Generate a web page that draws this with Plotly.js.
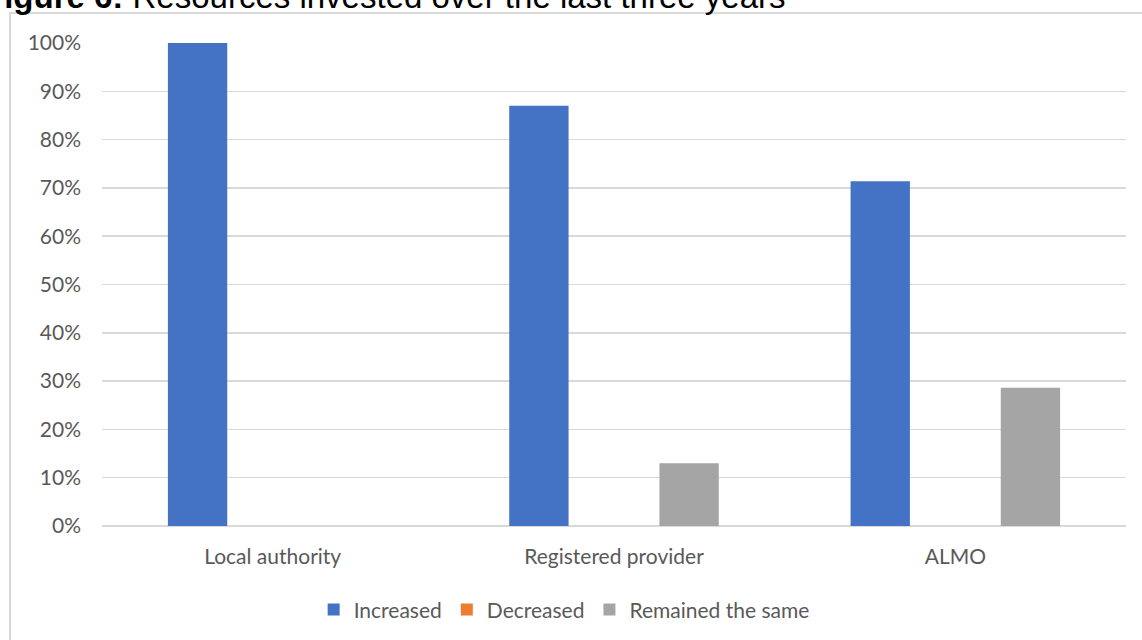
<!DOCTYPE html>
<html>
<head>
<meta charset="utf-8">
<script src="https://cdn.plot.ly/plotly-3.0.1.min.js"></script>
<style>
  html, body { margin: 0; padding: 0; background: #ffffff; overflow: hidden; }
  #frame {
    position: absolute; left: 9px; top: 12px; width: 1200px; height: 700px;
    border: 2px solid #d9d9d9; box-sizing: border-box;
  }
  #chart { position: absolute; left: 0; top: 0; width: 1142px; height: 640px; }
</style>
</head>
<body>
<div id="frame"></div>
<div id="chart"></div>
<script>
// Organisation types on the x axis
const categories = ['Local authority', 'Registered provider', 'ALMO'];

// Share of respondents per answer (fractions of 1)
const increased = [1.0, 0.87, 0.714];
const decreased = [0, 0, 0];
const remainedSame = [0, 0.13, 0.286];

const seriesNames = ['Increased', 'Decreased', 'Remained the same'];
const seriesColors = ['#4472C4', '#ED7D31', '#A5A5A5'];

const labelFont = { family: 'Lato, "Open Sans", sans-serif', size: 21, color: '#595959' };

const traces = [increased, decreased, remainedSame].map((vals, i) => ({
  type: 'bar',
  name: seriesNames[i],
  x: categories,
  y: vals,
  marker: { color: seriesColors[i], line: { width: 0 } },
  hoverinfo: 'skip'
}));

const layout = {
  width: 1142,
  height: 640,
  margin: { l: 102, r: 16, t: 43, b: 114 },
  paper_bgcolor: 'rgba(0,0,0,0)',
  plot_bgcolor: 'rgba(0,0,0,0)',
  barmode: 'group',
  bargap: 0.34,
  bargroupgap: 0.21,
  showlegend: true,
  legend: {
    orientation: 'h',
    xref: 'container', yref: 'container',
    x: 0.494, xanchor: 'center',
    y: 0.047, yanchor: 'middle',
    font: labelFont,
    itemwidth: 30,
    traceorder: 'normal'
  },
  xaxis: {
    type: 'category',
    showgrid: false,
    showline: false,
    zeroline: false,
    ticks: '',
    tickfont: labelFont,
    ticklabelstandoff: 16
  },
  yaxis: {
    range: [0, 1],
    dtick: 0.1,
    tick0: 0,
    tickformat: '.0%',
    showgrid: true,
    gridcolor: '#d9d9d9',
    gridwidth: 1.5,
    zeroline: true,
    zerolinecolor: '#d9d9d9',
    zerolinewidth: 1.5,
    showline: false,
    ticks: '',
    tickfont: labelFont,
    ticklabelstandoff: 20
  },
  annotations: [{
    xref: 'paper', yref: 'paper',
    x: -0.117, xanchor: 'left',
    y: 1, yanchor: 'bottom',
    yshift: 26,
    showarrow: false,
    align: 'left',
    text: '<b>Figure 6:</b> Resources invested over the last three years',
    font: { family: '"Liberation Sans", Arial, sans-serif', size: 33, color: '#000000' }
  }]
};

Plotly.newPlot('chart', traces, layout, { displayModeBar: false, staticPlot: true });
</script>
</body>
</html>
